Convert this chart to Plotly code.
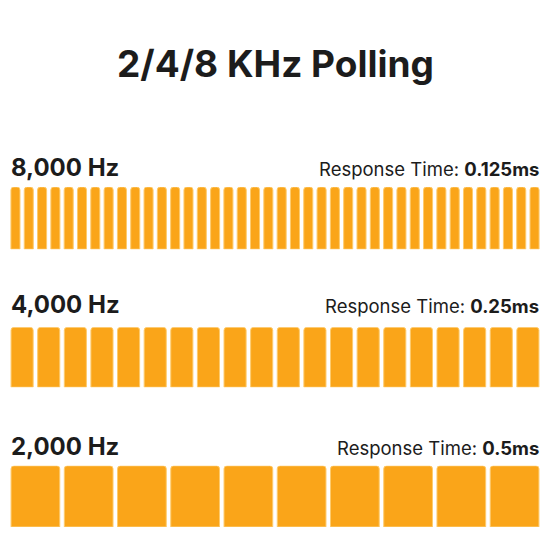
#importing libraries
import plotly.graph_objs as go
from plotly.subplots import make_subplots

# chart data
hz_labels = ["8,000 Hz", "4,000 Hz", "2,000 Hz"]
pulse_counts = [40, 20, 10]
response_times = ["0.125ms", "0.25ms", "0.5ms"]
pulse_height = 1

# styling per row
bar_widths = [0.68, 0.83, 0.915]
row_domains = [[0.547, 0.660], [0.296, 0.405], [0.042, 0.153]]
label_y = [0.695, 0.446, 0.188]

bar_color = "#FAA519"
edge_color = "#FDCB6E"
text_color = "#1c1c1c"
font_name = "Inter"

# plotting
#-----------------------------------------------------------------------------
fig = make_subplots(rows=3, cols=1, shared_xaxes=False)

for i in range(len(hz_labels)):
    n = pulse_counts[i]
    trace = go.Bar(
        x=list(range(1, n + 1)),
        y=[pulse_height] * n,
        width=bar_widths[i],
        marker=dict(color=bar_color, line=dict(color=edge_color, width=1), cornerradius=3),
        showlegend=False,
        hoverinfo="skip",
    )
    fig.add_trace(trace, i + 1, 1)

    ax = "" if i == 0 else str(i + 1)
    fig.layout["xaxis" + ax].update(
        domain=[0.016, 0.984], range=[0.5, n + 0.5], visible=False, fixedrange=True
    )
    fig.layout["yaxis" + ax].update(
        domain=row_domains[i], range=[0, pulse_height], visible=False, fixedrange=True
    )

    # row labels
    fig.add_annotation(
        x=0.016, y=label_y[i], xref="paper", yref="paper",
        xanchor="left", yanchor="middle", showarrow=False,
        text="<b>" + hz_labels[i] + "</b>",
        font=dict(family=font_name, size=24, color=text_color, weight=800),
    )
    fig.add_annotation(
        x=0.984, y=label_y[i] - 0.003, xref="paper", yref="paper",
        xanchor="right", yanchor="middle", showarrow=False,
        text="Response Time: <b>" + response_times[i] + "</b>",
        font=dict(family=font_name, size=18.5, color=text_color),
    )

#-----------------------------------------------------------------------------
# title
fig.add_annotation(
    x=0.5, y=0.885, xref="paper", yref="paper",
    xanchor="center", yanchor="middle", showarrow=False,
    text="<b>2/4/8 KHz Polling</b>",
    font=dict(family=font_name, size=37, color=text_color, weight=800),
)

# layout
fig.update_layout(
    width=550, height=550,
    margin=dict(l=0, r=0, t=0, b=0),
    paper_bgcolor="white", plot_bgcolor="white",
)

fig.write_html(
    "out.html",
    config={"displayModeBar": False},
    post_script="document.body.style.margin='0';",
)
